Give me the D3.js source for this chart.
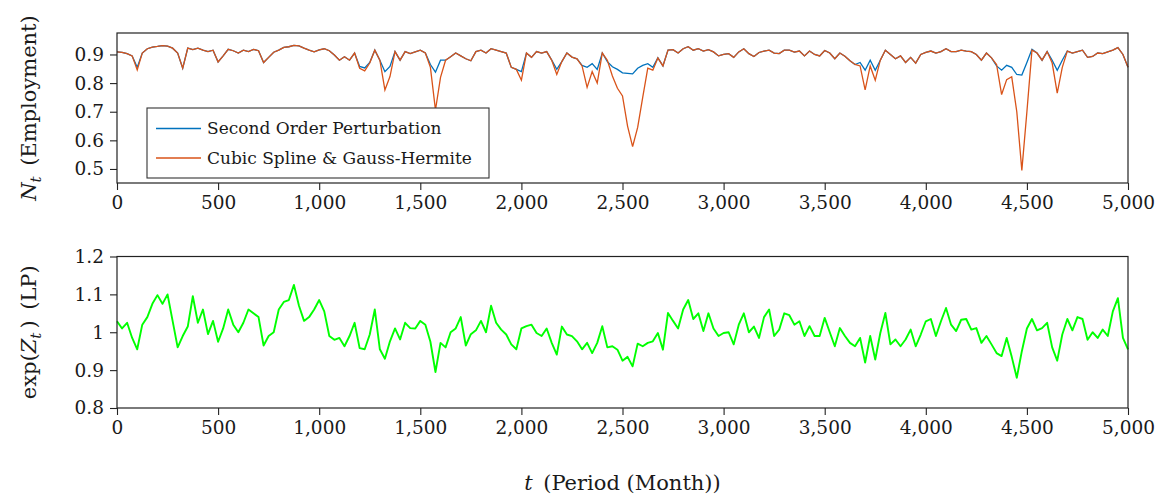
<!DOCTYPE html>
<html>
<head>
<meta charset="utf-8">
<script src="https://d3js.org/d3.v7.min.js"></script>
<style>
  body { margin: 0; background: #fff; }
  text { font-family: "DejaVu Serif", serif; fill: #1a1a1a; }
</style>
</head>
<body>
<script>
var W = 1166, H = 495;

// periods sampled every 25 months, 0..5000
var periods = d3.range(0, 5001, 25);

// N_t, Second Order Perturbation
var nPerturb = [
  0.909, 0.907, 0.903, 0.895, 0.855, 0.905, 0.920, 0.926, 0.928, 0.931,
  0.929, 0.922, 0.905, 0.852, 0.922, 0.917, 0.922, 0.915, 0.910, 0.915,
  0.874, 0.895, 0.918, 0.913, 0.905, 0.915, 0.910, 0.918, 0.913, 0.872,
  0.890, 0.908, 0.915, 0.925, 0.927, 0.932, 0.930, 0.922, 0.915, 0.909,
  0.916, 0.920, 0.913, 0.898, 0.880, 0.892, 0.880, 0.905, 0.858, 0.853,
  0.872, 0.915, 0.880, 0.840, 0.858, 0.910, 0.880, 0.910, 0.903, 0.909,
  0.915, 0.905, 0.865, 0.838, 0.880, 0.880, 0.892, 0.905, 0.895, 0.885,
  0.878, 0.910, 0.915, 0.905, 0.920, 0.915, 0.910, 0.905, 0.855, 0.848,
  0.840, 0.905, 0.890, 0.910, 0.905, 0.910, 0.880, 0.848, 0.875, 0.905,
  0.891, 0.885, 0.862, 0.855, 0.868, 0.848, 0.905, 0.875, 0.857, 0.848,
  0.836, 0.834, 0.832, 0.852, 0.862, 0.868, 0.855, 0.888, 0.860, 0.915,
  0.917, 0.905, 0.920, 0.927, 0.915, 0.920, 0.912, 0.917, 0.909, 0.895,
  0.900, 0.903, 0.890, 0.909, 0.920, 0.903, 0.893, 0.907, 0.912, 0.915,
  0.905, 0.903, 0.915, 0.915, 0.908, 0.912, 0.895, 0.912, 0.900, 0.895,
  0.914, 0.905, 0.885, 0.905, 0.894, 0.878, 0.865, 0.872, 0.845, 0.880,
  0.845, 0.880, 0.915, 0.900, 0.885, 0.895, 0.872, 0.890, 0.870, 0.900,
  0.907, 0.912, 0.905, 0.910, 0.920, 0.910, 0.910, 0.915, 0.912, 0.910,
  0.900, 0.880, 0.905, 0.888, 0.860, 0.845, 0.862, 0.855, 0.830, 0.828,
  0.872, 0.918, 0.905, 0.880, 0.910, 0.880, 0.845, 0.880, 0.912, 0.905,
  0.910, 0.915, 0.890, 0.893, 0.905, 0.903, 0.909, 0.915, 0.924, 0.900,
  0.855
];

// N_t, Cubic Spline & Gauss-Hermite
var nSpline = [
  0.909, 0.907, 0.903, 0.895, 0.846, 0.905, 0.920, 0.926, 0.928, 0.931,
  0.929, 0.922, 0.905, 0.852, 0.922, 0.917, 0.922, 0.915, 0.910, 0.915,
  0.874, 0.895, 0.918, 0.913, 0.905, 0.915, 0.910, 0.918, 0.913, 0.872,
  0.890, 0.908, 0.915, 0.925, 0.927, 0.932, 0.930, 0.922, 0.915, 0.909,
  0.916, 0.920, 0.913, 0.898, 0.880, 0.892, 0.880, 0.905, 0.852, 0.843,
  0.870, 0.915, 0.880, 0.776, 0.823, 0.910, 0.880, 0.910, 0.903, 0.909,
  0.915, 0.905, 0.855, 0.706, 0.820, 0.880, 0.892, 0.905, 0.895, 0.885,
  0.878, 0.910, 0.915, 0.905, 0.920, 0.915, 0.910, 0.905, 0.855, 0.848,
  0.810, 0.905, 0.890, 0.910, 0.905, 0.910, 0.880, 0.830, 0.875, 0.905,
  0.891, 0.885, 0.860, 0.785, 0.840, 0.800, 0.905, 0.880, 0.825, 0.782,
  0.755, 0.650, 0.578, 0.645, 0.750, 0.852, 0.845, 0.888, 0.860, 0.915,
  0.917, 0.905, 0.920, 0.927, 0.915, 0.920, 0.912, 0.917, 0.909, 0.895,
  0.900, 0.903, 0.890, 0.909, 0.920, 0.903, 0.893, 0.907, 0.912, 0.915,
  0.905, 0.903, 0.915, 0.915, 0.908, 0.912, 0.895, 0.912, 0.900, 0.895,
  0.914, 0.905, 0.885, 0.905, 0.894, 0.878, 0.865, 0.860, 0.776, 0.860,
  0.810, 0.880, 0.915, 0.900, 0.885, 0.895, 0.872, 0.890, 0.870, 0.900,
  0.907, 0.912, 0.905, 0.910, 0.920, 0.910, 0.910, 0.915, 0.912, 0.910,
  0.900, 0.880, 0.905, 0.888, 0.865, 0.760, 0.812, 0.822, 0.700, 0.495,
  0.700, 0.915, 0.905, 0.880, 0.910, 0.870, 0.765, 0.855, 0.912, 0.905,
  0.910, 0.915, 0.890, 0.893, 0.905, 0.903, 0.909, 0.915, 0.924, 0.900,
  0.855
];

// exp(Z_t), labour productivity
var expZ = [
  1.029, 1.010, 1.025, 0.985, 0.955, 1.020, 1.040, 1.075, 1.098, 1.075,
  1.100, 1.030, 0.960, 0.990, 1.015, 1.095, 1.025, 1.060, 0.995, 1.030,
  0.975, 1.010, 1.060, 1.020, 1.000, 1.025, 1.060, 1.050, 1.040, 0.965,
  0.990, 1.000, 1.060, 1.080, 1.085, 1.125, 1.070, 1.030, 1.040, 1.060,
  1.085, 1.055, 0.990, 0.980, 0.985, 0.963, 0.990, 1.025, 0.958, 0.955,
  0.994, 1.060, 0.955, 0.930, 0.976, 1.010, 0.981, 1.025, 1.011, 1.010,
  1.030, 1.020, 0.975, 0.895, 0.972, 0.960, 1.000, 1.010, 1.040, 0.965,
  0.995, 1.005, 1.030, 1.000, 1.070, 1.025, 1.007, 0.994, 0.968, 0.955,
  1.010, 1.016, 1.020, 0.998, 0.990, 1.010, 0.972, 0.941, 1.015, 0.994,
  0.990, 0.976, 0.955, 0.972, 0.945, 0.972, 1.016, 0.960, 0.963, 0.954,
  0.925, 0.935, 0.910, 0.970, 0.963, 0.972, 0.976, 0.998, 0.954, 1.051,
  1.030, 1.010, 1.060, 1.085, 1.035, 1.050, 1.003, 1.050, 1.010, 0.990,
  0.998, 1.000, 0.968, 1.020, 1.050, 1.000, 1.015, 0.985, 1.040, 1.060,
  0.990, 1.007, 1.050, 1.045, 1.020, 1.029, 0.990, 1.016, 0.990, 0.990,
  1.038, 1.000, 0.963, 1.011, 0.990, 0.972, 0.963, 0.985, 0.920, 0.990,
  0.928, 0.998, 1.051, 0.968, 0.981, 0.963, 0.981, 1.007, 0.963, 0.994,
  1.029, 1.035, 0.990, 1.029, 1.064, 1.020, 1.003, 1.033, 1.035, 1.007,
  1.011, 0.972, 0.990, 0.968, 0.945, 0.937, 0.985, 0.935, 0.880, 0.950,
  1.010, 1.035, 1.005, 1.011, 1.025, 0.960, 0.925, 0.994, 1.035, 1.005,
  1.040, 1.035, 0.980, 1.000, 0.985, 1.007, 0.990, 1.055, 1.090, 0.985,
  0.955
];

var xTicks = [0, 500, 1000, 1500, 2000, 2500, 3000, 3500, 4000, 4500, 5000];
var topTicks = [0.5, 0.6, 0.7, 0.8, 0.9];
var botTicks = [0.8, 0.9, 1.0, 1.1, 1.2];
var legendLabels = ["Second Order Perturbation", "Cubic Spline & Gauss-Hermite"];
var colors = ["#0072bd", "#d95319"];

var left = 117, right = 1128;
var top1 = 33, bot1 = 183;
var top2 = 256.5, bot2 = 408;

var svg = d3.select("body").append("svg")
  .attr("width", W).attr("height", H);

var x = d3.scaleLinear().domain([0, 5000]).range([left, right]);
var y1 = d3.scaleLinear().domain([0.451, 0.975]).range([bot1, top1]);
var y2 = d3.scaleLinear().domain([0.8, 1.2]).range([bot2, top2]);

var fmtX = d3.format(",");
var fmtY = function (d) { return String(+d.toFixed(1)); };

function drawAxes(y, yt, yTop, yBot) {
  var gx = svg.append("g")
    .attr("transform", "translate(0," + yBot + ")")
    .call(d3.axisBottom(x).tickValues(xTicks).tickFormat(fmtX).tickSize(7).tickPadding(6));
  var gy = svg.append("g")
    .attr("transform", "translate(" + left + ",0)")
    .call(d3.axisLeft(y).tickValues(yt).tickFormat(fmtY).tickSize(7).tickPadding(6));
  [gx, gy].forEach(function (g) {
    g.select(".domain").remove();
    g.selectAll("line").attr("stroke", "#222").attr("stroke-width", 1.1);
    g.selectAll("text").style("font-size", "18.5px").attr("fill", "#1a1a1a");
  });
  svg.append("rect")
    .attr("x", left).attr("y", yTop)
    .attr("width", right - left).attr("height", yBot - yTop)
    .attr("fill", "none").attr("stroke", "#222").attr("stroke-width", 1.2);
}

// top panel lines
var line1 = d3.line().x(function (d, i) { return x(periods[i]); }).y(function (d) { return y1(d); });
svg.append("path").datum(nPerturb).attr("d", line1)
  .attr("fill", "none").attr("stroke", colors[0]).attr("stroke-width", 1.3);
svg.append("path").datum(nSpline).attr("d", line1)
  .attr("fill", "none").attr("stroke", colors[1]).attr("stroke-width", 1.3);

drawAxes(y1, topTicks, top1, bot1);

// legend
var lg = svg.append("g");
lg.append("rect").attr("x", 147).attr("y", 108).attr("width", 342).attr("height", 70)
  .attr("fill", "#fff").attr("stroke", "#333").attr("stroke-width", 1.1);
legendLabels.forEach(function (lab, i) {
  var yy = 128.5 + i * 29.5;
  lg.append("line").attr("x1", 156).attr("x2", 201).attr("y1", yy).attr("y2", yy)
    .attr("stroke", colors[i]).attr("stroke-width", 1.3);
  lg.append("text").attr("x", 207).attr("y", yy).attr("dy", "0.35em")
    .style("font-size", "17px").text(lab);
});

// bottom panel line
var line2 = d3.line().x(function (d, i) { return x(periods[i]); }).y(function (d) { return y2(d); });
svg.append("path").datum(expZ).attr("d", line2)
  .attr("fill", "none").attr("stroke", "#00ff00").attr("stroke-width", 1.9)
  .attr("stroke-linejoin", "round");

drawAxes(y2, botTicks, top2, bot2);

// axis titles
var t1 = svg.append("text")
  .attr("transform", "translate(36," + (top1 + bot1) / 2 + ") rotate(-90)")
  .attr("text-anchor", "middle").style("font-size", "21px");
t1.append("tspan").style("font-style", "italic").text("N");
t1.append("tspan").style("font-style", "italic").style("font-size", "15px").attr("dy", 5).text("t");
t1.append("tspan").attr("dy", -5).text("\u2002(Employment)");

var t2 = svg.append("text")
  .attr("transform", "translate(36," + (top2 + bot2) / 2 + ") rotate(-90)")
  .attr("text-anchor", "middle").style("font-size", "21px");
t2.append("tspan").text("exp(");
t2.append("tspan").style("font-style", "italic").text("Z");
t2.append("tspan").style("font-style", "italic").style("font-size", "15px").attr("dy", 5).text("t");
t2.append("tspan").attr("dy", -5).text("\u2009)\u2002(LP)");

var t3 = svg.append("text")
  .attr("x", (left + right) / 2).attr("y", 490)
  .attr("text-anchor", "middle").style("font-size", "21px");
t3.append("tspan").style("font-style", "italic").text("t");
t3.append("tspan").text("\u2002(Period (Month))");
</script>
</body>
</html>
